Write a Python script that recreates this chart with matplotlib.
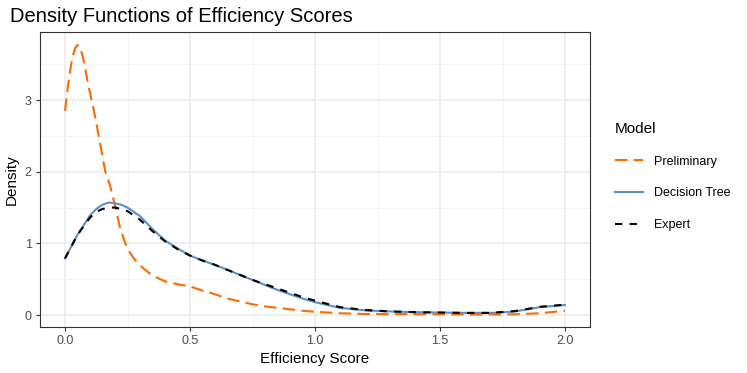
import matplotlib
matplotlib.use("Agg")
import matplotlib.pyplot as plt
from matplotlib.ticker import MultipleLocator

plt.rcParams['font.family'] = ['Liberation Sans', 'DejaVu Sans']

# Data
x_prelim = [0.0, 0.01, 0.02, 0.03, 0.04, 0.05, 0.06, 0.07, 0.08, 0.09, 0.1, 0.12, 0.14, 0.16, 0.18,
            0.2, 0.22, 0.24, 0.26, 0.28, 0.3, 0.35, 0.4, 0.45,
            0.5, 0.55, 0.6, 0.65, 0.7, 0.75, 0.8, 0.85, 0.9, 0.95, 1.0, 1.1, 1.2, 1.3, 1.4,
            1.5, 1.6, 1.7, 1.8, 1.9, 2.0]
y_prelim = [2.85, 3.15, 3.40, 3.60, 3.72, 3.77, 3.73, 3.62, 3.45, 3.27, 3.10, 2.78, 2.40, 2.02, 1.81,
            1.53, 1.22, 1.01, 0.87, 0.77, 0.69, 0.55, 0.47, 0.43,
            0.40, 0.34, 0.29, 0.23, 0.19, 0.15, 0.12, 0.10, 0.08, 0.06, 0.045, 0.025, 0.015, 0.012, 0.012,
            0.010, 0.008, 0.008, 0.010, 0.025, 0.06]

x_tree = [0.0, 0.05, 0.1, 0.125, 0.15, 0.175, 0.2, 0.225, 0.25, 0.3, 0.35, 0.4, 0.45, 0.5, 0.55, 0.6, 0.65, 0.7,
          0.75, 0.8, 0.85, 0.9, 0.95, 1.0, 1.1, 1.2, 1.3, 1.4, 1.5, 1.6, 1.7, 1.75, 1.8, 1.9, 2.0]
y_tree = [0.79, 1.12, 1.39, 1.48, 1.54, 1.57, 1.56, 1.54, 1.50, 1.38, 1.20, 1.04, 0.93, 0.83, 0.76, 0.70, 0.63, 0.56,
          0.49, 0.42, 0.35, 0.29, 0.23, 0.18, 0.10, 0.065, 0.05, 0.04, 0.035, 0.03, 0.03, 0.037, 0.05, 0.11, 0.14]

x_expert = [0.0, 0.05, 0.1, 0.125, 0.15, 0.175, 0.2, 0.225, 0.25, 0.3, 0.35, 0.4, 0.45, 0.5, 0.55, 0.6, 0.65, 0.7,
            0.75, 0.8, 0.85, 0.9, 0.95, 1.0, 1.1, 1.2, 1.3, 1.4, 1.5, 1.6, 1.7, 1.8, 1.9, 2.0]
y_expert = [0.79, 1.12, 1.36, 1.44, 1.48, 1.50, 1.50, 1.48, 1.45, 1.33, 1.17, 1.03, 0.92, 0.83, 0.76, 0.70, 0.63, 0.56,
            0.49, 0.43, 0.37, 0.31, 0.25, 0.20, 0.11, 0.07, 0.05, 0.04, 0.035, 0.03, 0.03, 0.055, 0.115, 0.145]

labels = ["Preliminary", "Decision Tree", "Expert"]
colors = ["#FF6A00", "#5B8FC8", "#000000"]

fig = plt.figure(figsize=(7.47, 3.73), dpi=100)
W, H = 747, 373
ax = fig.add_axes([40 / W, 1 - 327 / H, 550 / W, 295 / H])

l1, = ax.plot(x_prelim, y_prelim, color=colors[0], lw=1.5, linestyle=(0, (6, 3)), label=labels[0])
l2, = ax.plot(x_tree, y_tree, color=colors[1], lw=1.5, linestyle="-", label=labels[1])
l3, = ax.plot(x_expert, y_expert, color=colors[2], lw=1.5, linestyle=(0, (3.5, 3.5)), label=labels[2])

ax.set_xlim(-0.1, 2.1)
ax.set_ylim(-0.167, 3.95)
ax.xaxis.set_minor_locator(MultipleLocator(0.25))
ax.yaxis.set_minor_locator(MultipleLocator(0.5))
ax.set_xticks([0, 0.5, 1.0, 1.5, 2.0])
ax.set_xticklabels(["0.0", "0.5", "1.0", "1.5", "2.0"])
ax.set_yticks([0, 1, 2, 3])
ax.set_yticklabels(["0", "1", "2", "3"])
ax.grid(which="major", color="#EBEBEB", lw=1.1)
ax.grid(which="minor", color="#F2F2F2", lw=0.6)
ax.set_axisbelow(True)
for s in ax.spines.values():
    s.set_color("#333333")
    s.set_linewidth(0.8)
ax.tick_params(which="major", length=3, width=0.8, color="#333333", labelcolor="#4D4D4D",
               labelsize=9, pad=3)
ax.tick_params(which="minor", length=0)
ax.set_xlabel("Efficiency Score", fontsize=11, labelpad=3)
ax.set_ylabel("Density", fontsize=11, labelpad=4)
fig.text(10 / W, 1 - 22 / H, "Density Functions of Efficiency Scores", fontsize=14.5,
         ha="left", va="baseline")

leg = fig.legend(handles=[l1, l2, l3], loc="upper left", bbox_to_anchor=(610 / W, 1 - 117 / H),
                 frameon=False, title="Model", fontsize=9, title_fontsize=11,
                 handlelength=2.2, labelspacing=1.58, handletextpad=0.9, borderaxespad=0)
leg._legend_box.align = "left"

fig.savefig("out.png", dpi=100)
